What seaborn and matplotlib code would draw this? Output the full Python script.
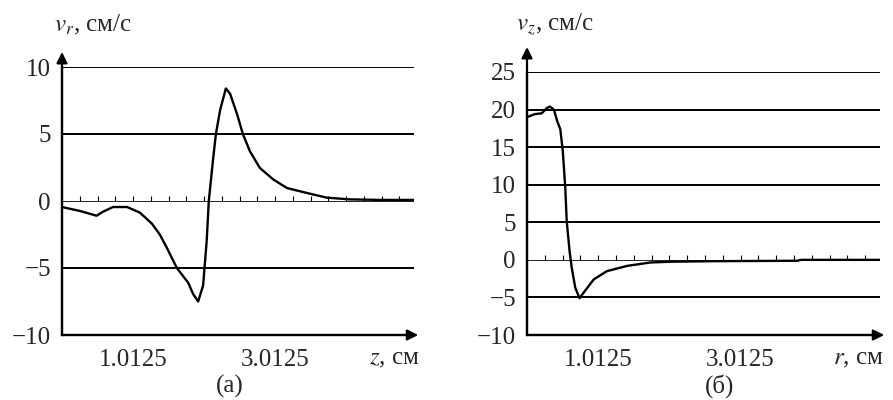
import numpy as np
import pandas as pd
import seaborn as sns
import matplotlib.pyplot as plt

# panel (а): radial velocity along z
z_cm = [0.0125, 0.27, 0.5, 0.59, 0.73, 0.93, 1.11, 1.28, 1.39, 1.49, 1.63, 1.79,
        1.86, 1.93, 2.0, 2.05, 2.08, 2.14, 2.18, 2.24, 2.32, 2.38, 2.48, 2.56,
        2.66, 2.80, 2.99, 3.18, 3.46, 3.74, 4.07, 4.5, 4.97]
v_r = [-0.45, -0.75, -1.1, -0.8, -0.45, -0.45, -0.87, -1.7, -2.5, -3.5, -5.0, -6.1,
       -6.95, -7.5, -6.3, -3.0, 0.0, 3.1, 5.0, 6.8, 8.4, 8.0, 6.45, 5.0,
       3.7, 2.46, 1.6, 0.97, 0.6, 0.25, 0.12, 0.08, 0.08]

# panel (б): axial velocity along r
r_cm = [0.0125, 0.125, 0.22, 0.29, 0.335, 0.39, 0.435, 0.48, 0.515, 0.55, 0.57,
        0.61, 0.64, 0.69, 0.75, 0.805, 0.95, 1.135, 1.42, 1.745, 2.03, 2.6, 3.2,
        3.81, 3.86, 4.5, 4.98]
v_z = [19.0, 19.4, 19.5, 20.2, 20.4, 20.0, 18.5, 17.4, 14.5, 9.6, 5.2,
       1.2, -1.0, -3.7, -5.1, -4.4, -2.6, -1.5, -0.8, -0.35, -0.25, -0.18, -0.15,
       -0.12, 0.0, 0.0, 0.0]

panels = [
    dict(x=z_cm, y=v_r, xname="z", yname="v_r", ylim=(-10, 10), grid=[10, 5, -5],
         yticks=[-10, -5, 0, 5, 10], ylab=r"$v_r$, см/с", xlab=r"$z$, см", tag="(а)",
         rect=[62 / 893, 65 / 400, 352 / 893, 268 / 400], tip=1.056,
         ylab_x=54, xlab_x=420, tag_x=230),
    dict(x=r_cm, y=v_z, xname="r", yname="v_z", ylim=(-10, 25), grid=[25, 20, 15, 10, 5, -5],
         yticks=[-10, -5, 0, 5, 10, 15, 20, 25], ylab=r"$v_z$, см/с", xlab=r"$r$, см", tag="(б)",
         rect=[527 / 893, 65 / 400, 353 / 893, 263 / 400], tip=1.095,
         ylab_x=516, xlab_x=884, tag_x=720),
]
x_ticks = [0.0125, 1.0125, 2.0125, 3.0125, 4.0125]
x_ticklabels = ["", "1.0125", "", "3.0125", ""]

sns.set_style("white")
plt.rcParams["font.family"] = ["Liberation Serif", "DejaVu Serif"]
plt.rcParams["mathtext.fontset"] = "stix"
plt.rcParams["font.size"] = 18

fig = plt.figure(figsize=(8.93, 4), dpi=100)

for p in panels:
    ax = fig.add_axes(p["rect"])
    df = pd.DataFrame({p["xname"]: p["x"], p["yname"]: p["y"]})
    for g in p["grid"]:
        ax.axhline(g, color="black", lw=1.4, zorder=1)
    ax.axhline(0, color="black", lw=0.6, zorder=1)
    minor = np.arange(0.2625, 4.97, 0.25)
    ax.plot(minor, np.zeros_like(minor), ls="", marker=2, ms=3.5, mew=0.8, color="black", zorder=1)
    sns.lineplot(data=df, x=p["xname"], y=p["yname"], ax=ax, color="black", lw=1.7,
                 sort=False, estimator=None, zorder=3)
    ax.set_xlim(0.0125, 4.97)
    ax.set_ylim(*p["ylim"])
    ax.set_yticks(p["yticks"])
    ax.set_xticks(x_ticks)
    ax.set_xticklabels(x_ticklabels)
    ax.tick_params(axis="y", length=0, pad=8, labelsize=18)
    ax.tick_params(axis="x", direction="out", length=8, width=1.5, pad=2, labelsize=18)
    ax.set_xlabel("")
    ax.set_ylabel("")
    for s in ["top", "right"]:
        ax.spines[s].set_visible(False)
    for s in ["left", "bottom"]:
        ax.spines[s].set_color("black")
        ax.spines[s].set_linewidth(1.6)
    ax.annotate("", xy=(0, p["tip"]), xytext=(0, 0), xycoords="axes fraction",
                arrowprops=dict(arrowstyle="-|>", lw=1.6, color="black", mutation_scale=16,
                                shrinkA=0, shrinkB=0), annotation_clip=False)
    ax.annotate("", xy=(1.012, 0), xytext=(0, 0), xycoords="axes fraction",
                arrowprops=dict(arrowstyle="-|>", lw=1.6, color="black", mutation_scale=16,
                                shrinkA=0, shrinkB=0), annotation_clip=False)
    fig.text(p["ylab_x"] / 893, 1 - 31 / 400, p["ylab"], ha="left", va="baseline", fontsize=18)
    fig.text(p["xlab_x"] / 893, 1 - 359 / 400, p["xlab"], ha="right", va="center", fontsize=18)
    fig.text(p["tag_x"] / 893, 1 - 386 / 400, p["tag"], ha="center", va="center", fontsize=18)

fig.savefig("out.png", dpi=100)
